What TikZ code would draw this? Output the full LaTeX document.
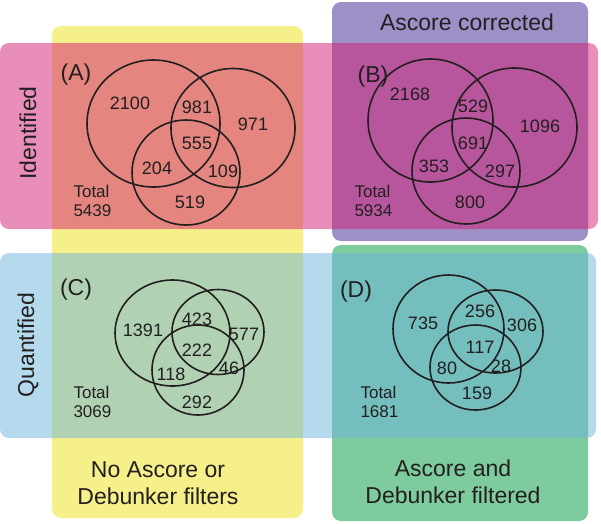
\documentclass[tikz,border=0pt]{standalone}
\usepackage{fontspec}
\setsansfont{Liberation Sans}
\usepackage{tikz}
\definecolor{yellowcol}{HTML}{F6F08A}
\definecolor{purplecol}{HTML}{9E90C6}
\definecolor{greencol}{HTML}{7ECB9D}
\definecolor{pinkrow}{HTML}{D31D75}
\definecolor{bluerow}{HTML}{6BB5DD}
\definecolor{inktext}{HTML}{231F20}

\begin{document}
\begin{tikzpicture}[x=1pt,y=-1pt,font=\sffamily,text=inktext,
  box/.style={rounded corners=9pt},
  rowbox/.style={box,fill opacity=.5},
  ring/.style={draw=inktext,line width=1.6pt},
  num/.style={font=\sffamily\fontsize{18}{20}\selectfont},
  tot/.style={anchor=west,align=left,font=\sffamily\fontsize{17}{19}\selectfont},
  big/.style={font=\sffamily\fontsize{23}{27}\selectfont,align=center}]
  \useasboundingbox (0,0) rectangle (601,523);
  % columns
  \fill[box,yellowcol] (52,26) rectangle (303,518);
  \fill[box,purplecol] (332,2) rectangle (588,241);
  \fill[box,greencol] (332,245) rectangle (588,521);
  % rows
  \fill[rowbox,pinkrow] (0,43) rectangle (598,229);
  \fill[rowbox,bluerow] (0,253) rectangle (596,438);
  \node[big,rotate=90] (ident) at (28,133) {Identified};
  \node[big,rotate=90] (quant) at (28,345) {Quantified};
  \node[big] (corr) at (467,22) {Ascore corrected};
  \node[big] (nofilt) at (158,483) {No Ascore or\\Debunker filters};
  \node[big] (filt) at (453,482) {Ascore and\\Debunker filtered};
  % (A)
  \draw[ring] (153.5,123.5) ellipse [x radius=66.5,y radius=63.5];
  \draw[ring] (233,128) ellipse [x radius=62,y radius=59.5];
  \draw[ring] (186,172.5) ellipse [x radius=54,y radius=52.5];
  \node[big] (labA) at (76,75) {(A)};
  \node[num] (a1) at (130,103) {2100};
  \node[num] (a2) at (197,107) {981};
  \node[num] (a3) at (253,124) {971};
  \node[num] (a4) at (197,143) {555};
  \node[num] (a5) at (157,168) {204};
  \node[num] (a6) at (223,171) {109};
  \node[num] (a7) at (190,202) {519};
  \node[tot] (totA) at (70,201) {Total\\5439};
  % (B)
  \draw[ring] (430.5,120.5) ellipse [x radius=62.5,y radius=61.5];
  \draw[ring] (514.5,127.5) ellipse [x radius=62.5,y radius=59.5];
  \draw[ring] (466,171) ellipse [x radius=54,y radius=53];
  \node[big] (labB) at (373,77) {(B)};
  \node[num] (b1) at (410,94) {2168};
  \node[num] (b2) at (473,106) {529};
  \node[num] (b3) at (540,126) {1096};
  \node[num] (b4) at (473,143) {691};
  \node[num] (b5) at (434,166) {353};
  \node[num] (b6) at (500,171) {297};
  \node[num] (b7) at (470,202) {800};
  \node[tot] (totB) at (351,201) {Total\\5934};
  % (C)
  \draw[ring] (172.5,333) ellipse [x radius=57.5,y radius=53];
  \draw[ring] (218,332) ellipse [x radius=46,y radius=42.5];
  \draw[ring] (198,370) ellipse [x radius=46,y radius=45];
  \node[big] (labC) at (76,290) {(C)};
  \node[num] (c1) at (143,330) {1391};
  \node[num] (c2) at (197,319) {423};
  \node[num] (c3) at (244,334) {577};
  \node[num] (c4) at (197,350) {222};
  \node[num] (c5) at (229,368) {46};
  \node[num] (c6) at (171,374) {118};
  \node[num] (c7) at (197,402) {292};
  \node[tot] (totC) at (70,402) {Total\\3069};
  % (D)
  \draw[ring] (448.5,329) ellipse [x radius=55.5,y radius=54];
  \draw[ring] (495.5,331.5) ellipse [x radius=47.5,y radius=41.5];
  \draw[ring] (475.5,367.5) ellipse [x radius=45.5,y radius=42.5];
  \node[big] (labD) at (356,292) {(D)};
  \node[num] (d1) at (423,323) {735};
  \node[num] (d2) at (480,311) {256};
  \node[num] (d3) at (522,325) {306};
  \node[num] (d4) at (480,347) {117};
  \node[num] (d5) at (501,366) {28};
  \node[num] (d6) at (447,368) {80};
  \node[num] (d7) at (477,393) {159};
  \node[tot] (totD) at (357,402) {Total\\1681};
\end{tikzpicture}
\end{document}
